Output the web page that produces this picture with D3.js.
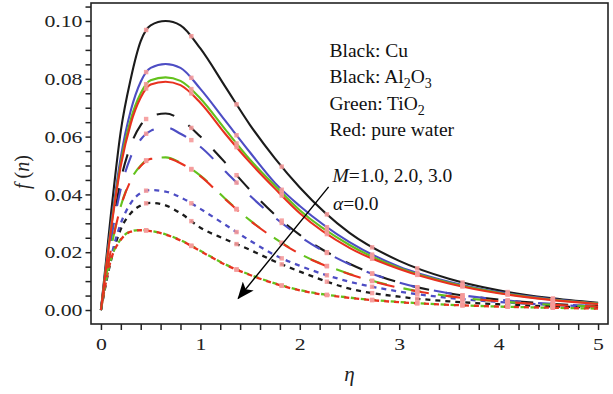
<!DOCTYPE html>
<html>
<head>
<meta charset="utf-8">
<script src="https://cdn.jsdelivr.net/npm/d3@7"></script>
<style>
  html, body { margin: 0; padding: 0; background: #fff; }
  svg { display: block; }
</style>
</head>
<body>
<svg id="chart" width="613" height="394"></svg>
<script>
// similarity variable eta, shared by every profile
const eta = [0, 0.1, 0.2, 0.3, 0.4, 0.5, 0.65, 0.8, 1.0, 1.25, 1.5, 1.75, 2.0, 2.5, 3.0, 3.5, 4.0, 4.5, 5.0];

// M = 1.0
const cuM1    = [0, 0.033, 0.062, 0.080, 0.093, 0.0985, 0.100, 0.0985, 0.0905, 0.0773, 0.064, 0.0525, 0.0424, 0.0267, 0.0170, 0.0108, 0.0068, 0.0042, 0.0025];
const al2o3M1 = [0, 0.029, 0.053, 0.069, 0.079, 0.0838, 0.0851, 0.0838, 0.0765, 0.0655, 0.0545, 0.0440, 0.0360, 0.0235, 0.0150, 0.0098, 0.0062, 0.0039, 0.0023];
const tio2M1  = [0, 0.028, 0.051, 0.066, 0.075, 0.0795, 0.0805, 0.0793, 0.0732, 0.0625, 0.0520, 0.0430, 0.0345, 0.0225, 0.0145, 0.0094, 0.0060, 0.0037, 0.0022];
const waterM1 = [0, 0.0275, 0.050, 0.0645, 0.0735, 0.0780, 0.0790, 0.0778, 0.0717, 0.0610, 0.0510, 0.0420, 0.0335, 0.0215, 0.0142, 0.0092, 0.0058, 0.0036, 0.0021];

// M = 2.0
const cuM2    = [0, 0.025, 0.045, 0.057, 0.064, 0.067, 0.068, 0.066, 0.060, 0.051, 0.0415, 0.033, 0.026, 0.016, 0.0095, 0.0058, 0.0036, 0.0022, 0.0014];
const al2o3M2 = [0, 0.024, 0.042, 0.053, 0.059, 0.062, 0.0632, 0.061, 0.0565, 0.048, 0.0395, 0.032, 0.0255, 0.0158, 0.0095, 0.0058, 0.0036, 0.0022, 0.0014];
const tio2M2  = [0, 0.021, 0.036, 0.045, 0.050, 0.0525, 0.0528, 0.051, 0.0465, 0.0385, 0.0310, 0.0248, 0.0195, 0.0125, 0.0078, 0.0048, 0.0030, 0.0019, 0.0012];
const waterM2 = [0, 0.0208, 0.0358, 0.0448, 0.0498, 0.0523, 0.0526, 0.0508, 0.0463, 0.0383, 0.0309, 0.0247, 0.0194, 0.0124, 0.0077, 0.0048, 0.0030, 0.0019, 0.0012];

// M = 3.0
const cuM3    = [0, 0.017, 0.028, 0.0335, 0.0362, 0.0371, 0.0362, 0.0335, 0.0285, 0.0245, 0.0208, 0.0168, 0.0133, 0.0074, 0.0046, 0.0030, 0.0020, 0.0013, 0.0009];
const al2o3M3 = [0, 0.018, 0.030, 0.037, 0.0405, 0.0415, 0.0410, 0.0390, 0.0350, 0.0295, 0.0240, 0.0190, 0.0153, 0.0098, 0.0064, 0.0042, 0.0028, 0.0018, 0.0012];
const tio2M3  = [0, 0.0175, 0.0245, 0.0272, 0.0277, 0.0274, 0.0262, 0.0242, 0.0205, 0.0158, 0.0122, 0.0092, 0.0069, 0.0043, 0.0028, 0.0018, 0.0012, 0.0008, 0.0005];
const waterM3 = [0, 0.0173, 0.0243, 0.0271, 0.0276, 0.0273, 0.0261, 0.0241, 0.0204, 0.0157, 0.0121, 0.0091, 0.0068, 0.0042, 0.0027, 0.0018, 0.0012, 0.0008, 0.0005];

// axis ticks
const xMajor = [0, 1, 2, 3, 4, 5];
const yMajor = [0.00, 0.02, 0.04, 0.06, 0.08, 0.10];

// legend and annotation text
const legendLines = [
  [{t: "Black: Cu"}],
  [{t: "Black: Al"}, {t: "2", sub: true}, {t: "O"}, {t: "3", sub: true}],
  [{t: "Green: TiO"}, {t: "2", sub: true}],
  [{t: "Red: pure water"}]
];
// arrow across the M families, in data units
const arrowFrom = [2.29, 0.0426];
const arrowTo   = [1.38, 0.0040];

const colors = { cu: "#1b1b1b", al: "#4d4dc4", ti: "#63c21c", water: "#e8311f" };
const styles = {
  M1: { dash: null, width: 2.1 },
  M2: { dash: "18,17", width: 2.1 },
  M3: { dash: "5,5", width: 2.3 }
};

const series = [
  { v: cuM3, c: colors.cu, s: "M3", off: 0 },
  { v: al2o3M3, c: colors.al, s: "M3", off: 0 },
  { v: tio2M3, c: colors.ti, s: "M3", off: 0 },
  { v: waterM3, c: colors.water, s: "M3", off: -3 },
  { v: cuM2, c: colors.cu, s: "M2", off: 0 },
  { v: al2o3M2, c: colors.al, s: "M2", off: 0 },
  { v: tio2M2, c: colors.ti, s: "M2", off: 0 },
  { v: waterM2, c: colors.water, s: "M2", off: -7 },
  { v: cuM1, c: colors.cu, s: "M1", off: 0 },
  { v: al2o3M1, c: colors.al, s: "M1", off: 0 },
  { v: tio2M1, c: colors.ti, s: "M1", off: 0 },
  { v: waterM1, c: colors.water, s: "M1", off: 0 }
];

const svg = d3.select("#chart");
const plot = { left: 91, right: 608, top: 3, bottom: 324 };

const x = d3.scaleLinear().domain([-0.1, 5.1]).range([plot.left, plot.right]);
const y = d3.scaleLinear().domain([-0.00484, 0.10623]).range([plot.bottom, plot.top]);

const serif = "'Liberation Serif', 'Times New Roman', serif";

// curves
const line = d3.line().x((d, i) => x(eta[i])).y(d => y(d)).curve(d3.curveMonotoneX);
const g = svg.append("g");
const paths = series.map(s => {
  const st = styles[s.s];
  return g.append("path")
    .datum(s.v)
    .attr("d", line)
    .attr("fill", "none")
    .attr("stroke", s.c)
    .attr("stroke-width", st.width)
    .attr("stroke-dasharray", st.dash)
    .attr("stroke-dashoffset", s.off)
    .attr("stroke-linecap", "butt")
    .node();
});

// sample points drawn as small pink squares along each profile
const markEta = d3.range(1, 11).map(k => k * 5 / 11);
function pointAtX(node, px) {
  const total = node.getTotalLength();
  let lo = 0, hi = total;
  for (let i = 0; i < 40; i++) {
    const mid = (lo + hi) / 2;
    if (node.getPointAtLength(mid).x < px) lo = mid; else hi = mid;
  }
  return node.getPointAtLength((lo + hi) / 2);
}
const marks = svg.append("g");
paths.forEach(node => {
  markEta.forEach(e => {
    const p = pointAtX(node, x(e));
    marks.append("rect")
      .attr("x", p.x - 2.2).attr("y", p.y - 2.2)
      .attr("width", 4.4).attr("height", 4.4)
      .attr("fill", "#f59a9a").attr("opacity", 0.9);
  });
});

// frame
svg.append("rect")
  .attr("x", plot.left).attr("y", plot.top)
  .attr("width", plot.right - plot.left).attr("height", plot.bottom - plot.top)
  .attr("fill", "none").attr("stroke", "#222").attr("stroke-width", 1.6);

// axes: minor ticks share the major tick length
const xTicks = d3.range(0, 26).map(i => i * 0.2);
const yTicks = d3.range(0, 22).map(i => i * 0.005);
const isMajor = (v, list) => list.some(m => Math.abs(m - v) < 1e-9);

const xAxis = svg.append("g")
  .attr("transform", `translate(0,${plot.bottom})`)
  .call(d3.axisBottom(x).tickValues(xTicks).tickSize(6).tickSizeOuter(0)
    .tickFormat(d => isMajor(d, xMajor) ? d3.format("d")(d) : ""));
const yAxis = svg.append("g")
  .attr("transform", `translate(${plot.left},0)`)
  .call(d3.axisLeft(y).tickValues(yTicks).tickSize(5.5).tickSizeOuter(0)
    .tickFormat(d => isMajor(d, yMajor) ? d3.format(".2f")(d) : ""));

[xAxis, yAxis].forEach(a => {
  a.select(".domain").remove();
  a.selectAll(".tick line").attr("stroke", "#222").attr("stroke-width", 1.5);
  a.selectAll(".tick text")
    .attr("fill", "#222")
    .style("font-family", serif)
    .style("font-size", "17px");
});
// digits are set wide
xAxis.selectAll(".tick text").attr("y", 26).attr("dy", 0).attr("transform", "scale(1.28,1)");
yAxis.selectAll(".tick text").attr("x", -8.5 / 1.28).attr("dy", "0.34em").attr("transform", "scale(1.28,1)");

// axis titles
svg.append("text")
  .attr("x", (plot.left + plot.right) / 2).attr("y", 381)
  .attr("text-anchor", "middle")
  .style("font-family", serif).style("font-size", "21px").style("font-style", "italic")
  .attr("fill", "#222")
  .text("η");

const yt = svg.append("text")
  .attr("transform", "translate(29,172) rotate(-90)")
  .attr("text-anchor", "middle")
  .style("font-family", serif).style("font-size", "20px")
  .attr("fill", "#222");
yt.append("tspan").style("font-style", "italic").text("f");
yt.append("tspan").text(" (");
yt.append("tspan").style("font-style", "italic").text("n");
yt.append("tspan").text(")");

// legend text, with subscripted digits
const leg = svg.append("g").style("font-family", serif).style("font-size", "19.5px").attr("fill", "#111");
legendLines.forEach((parts, i) => {
  const t = leg.append("text").attr("x", 329.5).attr("y", 57 + i * 26.4);
  let prevSub = false;
  parts.forEach(p => {
    const sp = t.append("tspan").text(p.t);
    if (p.sub) sp.attr("dy", prevSub ? 0 : 5).style("font-size", "14px");
    else if (prevSub) sp.attr("dy", -5);
    prevSub = !!p.sub;
  });
});

const ann = svg.append("g").style("font-family", serif).style("font-size", "19.5px").attr("fill", "#111");
const a1 = ann.append("text").attr("x", 332.5).attr("y", 182);
a1.append("tspan").style("font-style", "italic").text("M");
a1.append("tspan").text("=1.0, 2.0, 3.0");
const a2 = ann.append("text").attr("x", 333).attr("y", 210);
a2.append("tspan").style("font-style", "italic").text("α");
a2.append("tspan").text("=0.0");

// arrow
svg.append("defs").append("marker")
  .attr("id", "head").attr("markerUnits", "userSpaceOnUse")
  .attr("markerWidth", 18).attr("markerHeight", 14)
  .attr("refX", 16).attr("refY", 7).attr("orient", "auto")
  .append("path").attr("d", "M0,0 L17,7 L0,14 L4,7 Z").attr("fill", "#000");
svg.append("line")
  .attr("x1", x(arrowFrom[0])).attr("y1", y(arrowFrom[1]))
  .attr("x2", x(arrowTo[0])).attr("y2", y(arrowTo[1]))
  .attr("stroke", "#000").attr("stroke-width", 1.4)
  .attr("marker-end", "url(#head)");
</script>
</body>
</html>
